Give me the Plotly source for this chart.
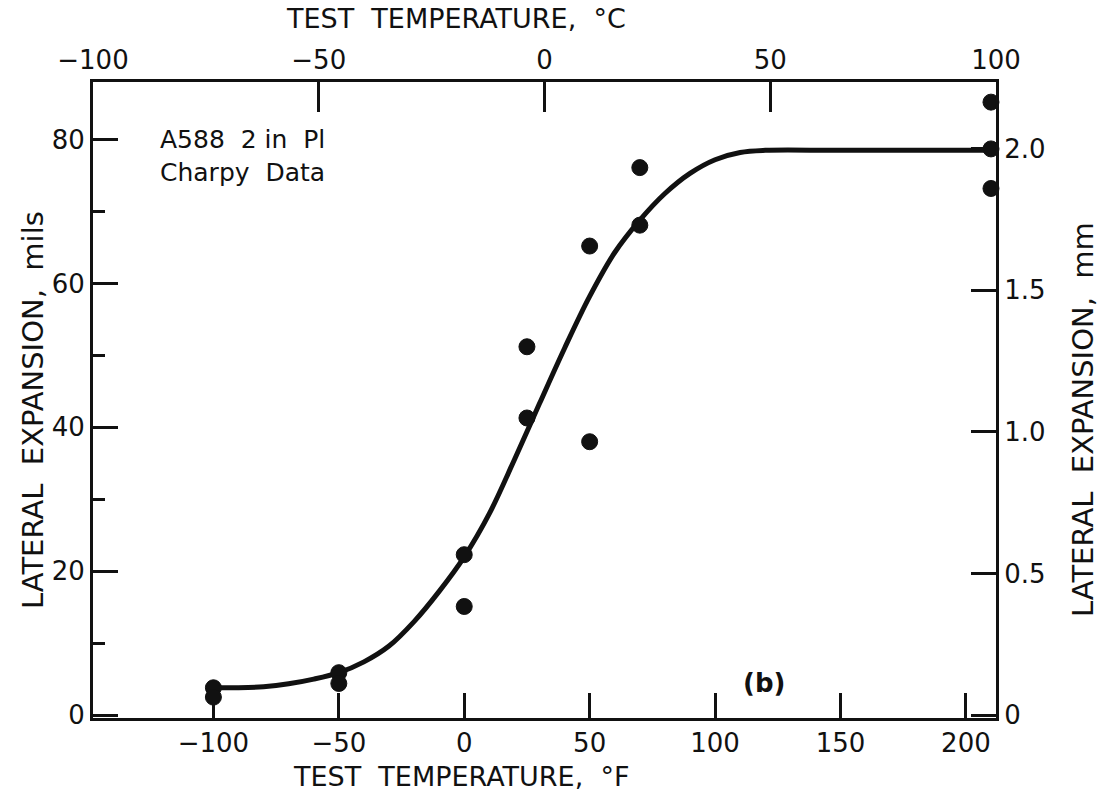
import plotly.graph_objects as go

# Data (temperature in °F, lateral expansion in mils)
pt_temp_f = [-100, -100, -50, -50, 0, 0, 25, 25, 50, 50, 70, 70, 210, 210, 210]
pt_lat_mils = [3.8, 2.5, 5.9, 4.4, 22.3, 15.1, 51.2, 41.3, 65.2, 38.0, 76.1, 68.1, 85.2, 78.7, 73.2]

curve_temp_f = [-100, -90, -80, -70, -60, -50, -40, -30, -20, -10, 0, 10, 20, 30, 40, 50, 60, 70, 80, 90, 100, 110, 120, 150, 212]
curve_lat_mils = [3.8, 3.8, 3.95, 4.35, 5.0, 5.9, 7.4, 9.6, 13.0, 17.2, 22.0, 28.0, 35.5, 43.3, 51.0, 58.2, 64.3, 68.8, 72.5, 75.3, 77.2, 78.2, 78.5, 78.5, 78.5]

x_ticks_f = [-100, -50, 0, 50, 100, 150, 200]
x_ticks_c = [-100, -50, 0, 50, 100]
y_ticks_mils = [0, 20, 40, 60, 80]
y_ticks_mm = [0, 0.5, 1.0, 1.5, 2.0]
y_ticktext_mm = ["0", "0.5", "1.0", "1.5", "2.0"]

X_RANGE_F = [-148, 212]
X_RANGE_C = [(X_RANGE_F[0] - 32) / 1.8, (X_RANGE_F[1] - 32) / 1.8]
Y_RANGE = [-0.4, 88.0]
MILS_PER_MM = 39.37
Y_RANGE_MM = [Y_RANGE[0] / MILS_PER_MM, Y_RANGE[1] / MILS_PER_MM]

FONT = "DejaVu Sans"
BLACK = "#111111"

fig = go.Figure()
fig.add_trace(go.Scatter(
    x=curve_temp_f, y=curve_lat_mils, mode="lines",
    line=dict(color=BLACK, width=5, shape="spline", smoothing=1.0),
    hoverinfo="skip", showlegend=False,
))
fig.add_trace(go.Scatter(
    x=pt_temp_f, y=pt_lat_mils, mode="markers",
    marker=dict(color=BLACK, size=16, line=dict(color=BLACK, width=1)),
    cliponaxis=False, showlegend=False,
))
# secondary axes (°C, mm) carry an invisible trace so they are drawn
fig.add_trace(go.Scatter(
    x=[X_RANGE_C[0]], y=[Y_RANGE_MM[0]], xaxis="x2", yaxis="y2",
    mode="markers", marker=dict(opacity=0), hoverinfo="skip", showlegend=False,
))

tickfont = dict(family=FONT, size=26, color=BLACK)
common = dict(showgrid=False, zeroline=False, showline=True, linecolor=BLACK,
              linewidth=3, ticks="inside", tickcolor=BLACK, tickwidth=3,
              tickfont=tickfont)

fig.update_layout(
    width=1104, height=793,
    margin=dict(l=93, r=108, t=82, b=75),
    paper_bgcolor="white", plot_bgcolor="white",
    xaxis=dict(range=X_RANGE_F, tickvals=x_ticks_f, ticklen=25, ticklabelstandoff=0, **common),
    xaxis2=dict(range=X_RANGE_C, tickvals=x_ticks_c, overlaying="x", side="top",
                ticklen=30, anchor="y", **common),
    yaxis=dict(range=Y_RANGE, tickvals=y_ticks_mils, ticklen=25,
               minor=dict(ticks="inside", ticklen=12, dtick=10, tickcolor=BLACK, tickwidth=3),
               **common),
    yaxis2=dict(range=Y_RANGE_MM, tickvals=y_ticks_mm, ticktext=y_ticktext_mm,
                overlaying="y", side="right", ticklen=25, anchor="x", **common),
)

tfont = dict(family=FONT, size=27, color=BLACK)
vfont = dict(family=FONT, size=29, color=BLACK)
fig.add_annotation(text="TEST  TEMPERATURE,  °F", xref="paper", yref="paper",
                   x=(461 - 93) / 903, y=-(776 - 718) / 636, showarrow=False, font=tfont,
                   xanchor="center", yanchor="middle")
fig.add_annotation(text="TEST  TEMPERATURE,  °C", xref="paper", yref="paper",
                   x=(456 - 93) / 903, y=1 + (82 - 18) / 636, showarrow=False, font=tfont,
                   xanchor="center", yanchor="middle")
fig.add_annotation(text="LATERAL  EXPANSION,  mils", xref="paper", yref="paper",
                   x=-(93 - 33) / 903, y=(718 - 410) / 636, showarrow=False, font=vfont,
                   textangle=-90, xanchor="center", yanchor="middle")
fig.add_annotation(text="LATERAL  EXPANSION,  mm", xref="paper", yref="paper",
                   x=1 + (1083 - 996) / 903, y=(718 - 420) / 636, showarrow=False, font=vfont,
                   textangle=-90, xanchor="center", yanchor="middle")
fig.add_annotation(text="A588  2 in  Pl<br>Charpy  Data", xref="paper", yref="paper",
                   x=(158 - 93) / 903, y=(718 - 156) / 636, showarrow=False,
                   font=dict(family=FONT, size=25, color=BLACK), align="left",
                   xanchor="left", yanchor="middle")
fig.add_annotation(text="<b>(b)</b>", xref="paper", yref="paper",
                   x=(764 - 93) / 903, y=(718 - 683) / 636, showarrow=False,
                   font=dict(family=FONT, size=26, color=BLACK),
                   xanchor="center", yanchor="middle")

fig.write_html("out.html")
